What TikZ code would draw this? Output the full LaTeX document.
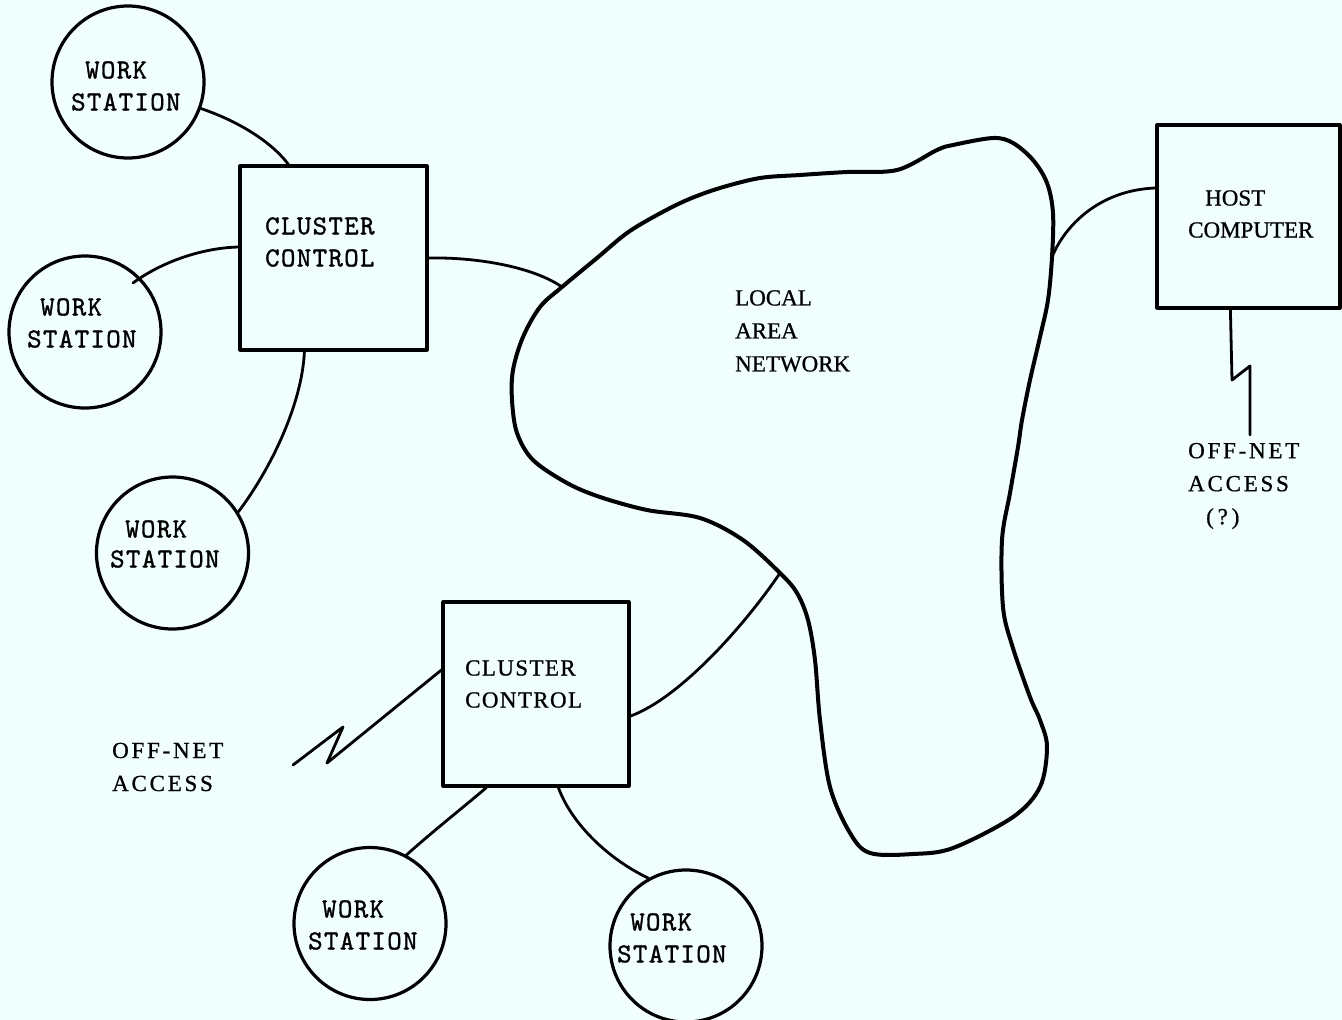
\documentclass[tikz,border=0pt]{standalone}
\usepackage{fontspec}
\newfontfamily\twfont{lmmono10-regular}[Extension=.otf,LetterSpace=5,FakeBold=1.2]
\newfontfamily\serfont{Liberation Serif}[FakeBold=0.8]
\newfontfamily\serfontw{Liberation Serif}[LetterSpace=12,FakeBold=0.8]
\newfontfamily\serfontm{Liberation Serif}[LetterSpace=6,FakeBold=0.8]
\usetikzlibrary{calc}
\definecolor{bgc}{RGB}{240,254,254}
\begin{document}
\begin{tikzpicture}[x=1pt,y=-1pt,line cap=round,line join=round,
  ws/.style={circle,draw,line width=3.2pt,minimum size=152pt,inner sep=0pt},
  box/.style={rectangle,draw,line width=3.2pt,inner sep=0pt},
  tw/.style={font=\fontsize{27.5}{32}\selectfont\twfont,align=left,anchor=west,inner sep=0pt},
  sf/.style={font=\fontsize{23}{33}\selectfont\serfont,align=left,anchor=west,inner sep=0pt},
  sfh/.style={font=\fontsize{23}{32}\selectfont\serfont,align=left,anchor=west,inner sep=0pt},
  sfw/.style={font=\fontsize{23}{33}\selectfont\serfontw,align=left,anchor=west,inner sep=0pt},
  sfm/.style={font=\fontsize{23}{32}\selectfont\serfontm,align=left,anchor=west,inner sep=0pt},
  link/.style={line width=2.8pt},
  lan/.style={line width=4pt}]
\fill[bgc] (0,0) rectangle (1342,1020);
\useasboundingbox (0,0) rectangle (1342,1020);

% work stations
\node[ws] (ws1) at (128,82) {};
\node[ws] (ws2) at (85,332) {};
\node[ws] (ws3) at (172.5,553) {};
\node[ws] (ws4) at (370,923.5) {};
\node[ws] (ws5) at (686,946) {};
\node[tw] (ws1t) at (71,86) {\hspace*{14pt}WORK\\STATION};
\node[tw] (ws2t) at (27,323) {\hspace*{13pt}WORK\\STATION};
\node[tw,font=\fontsize{27.5}{30}\selectfont\twfont] (ws3t) at (110,544) {\hspace*{15pt}WORK\\STATION};
\node[tw] (ws4t) at (308,925) {\hspace*{14pt}WORK\\STATION};
\node[tw] (ws5t) at (617,938) {\hspace*{13pt}WORK\\STATION};

% boxes
\node[box,minimum width=187pt,minimum height=184pt] (c1) at (333.5,258) {};
\node[box,minimum width=186pt,minimum height=184pt] (c2) at (536,694) {};
\node[box,minimum width=183pt,minimum height=183pt] (host) at (1248.5,216.5) {};
\node[tw] (c1t) at (265,242) {CLUSTER\\CONTROL};
\node[sfm] (c2t) at (465,684) {CLUSTER\\CONTROL};
\node[sfh] (hostt) at (1188,214) {\hspace*{17pt}HOST\\COMPUTER};

% local area network
\coordinate (j1) at (562,287);
\coordinate (j2) at (1052,257);
\coordinate (j3) at (780,573);
\draw[lan] plot[smooth cycle,tension=0.55] coordinates {
 (562,287) (597,258) (627,233) (657,215) (687,200) (720,188) (760,178)
 (800,175) (847,172) (897,170) (937,150) (953,145) (993,138) (1013,143)
 (1033,160) (1047,183) (1053,213) (1052,257) (1048,300) (1040,337)
 (1030,380) (1022,420) (1018,447) (1010,493) (1002,540) (1003,607)
 (1012,645) (1030,697) (1040,720) (1047,747) (1040,787) (1013,817)
 (953,848) (913,854) (870,853) (850,833) (830,787) (820,720) (815,660)
 (808,620) (797,593) (780,573) (743,540) (700,518) (647,510) (600,497)
 (567,483) (533,460) (517,433) (512,400) (513,370) (523,337) (540,307)};
\node[sf] (lant) at (735,331) {LOCAL\\AREA\\NETWORK};

% connectors
\draw[link] (ws1.-20) .. controls (235,120) and (270,140) .. ([xshift=50pt]c1.north west);
\draw[link] ($(ws2)+(48,-49)$) .. controls (160,263) and (200,248) .. ([yshift=11pt]c1.west);
\draw[link] (ws3.32) .. controls (270,470) and (302,405) .. ([xshift=66pt]c1.south west);
\draw[link] (c1.east) .. controls (480,257) and (535,268) .. (j1);
\draw[link] (j2) .. controls (1065,225) and (1100,190) .. ([yshift=28.5pt]host.west);
\draw[link] (j3) .. controls (745,625) and (680,698) .. ([yshift=-22pt]c2.east);
\draw[link] ([xshift=45pt]c2.south west) .. controls (460,810) and (432,832) .. (ws4.62);
\draw[link] ([xshift=117pt]c2.south west) .. controls (572,825) and (610,860) .. (ws5.119);

% off-net access
\coordinate (off1) at (1250,435);
\draw[link] ([xshift=75pt]host.south west) -- (1232,380) -- (1250,366) -- (off1);
\coordinate (off2) at (293,765);
\draw[link] ([yshift=24pt]c2.west) -- (327,763) -- (343,727) -- (off2);
\node[sfw] (offr) at (1188,486) {OFF-NET\\ACCESS\\\hspace*{18pt}(\,?\,)};
\node[sfw] (offl) at (112,767) {OFF-NET\\ACCESS};
\end{tikzpicture}
\end{document}
